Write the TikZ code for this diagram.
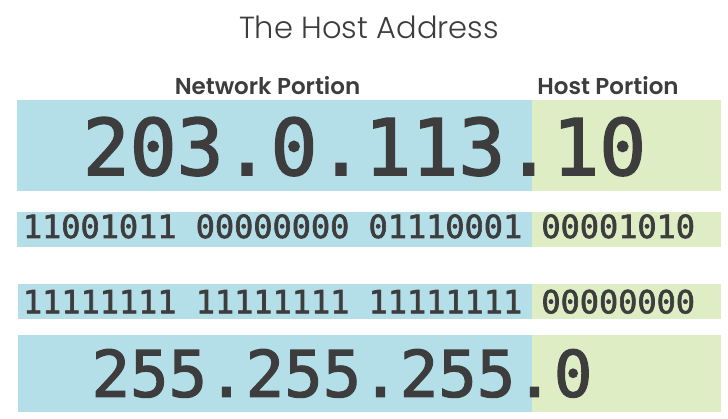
\documentclass[tikz,border=0pt]{standalone}
\usepackage{fontspec}
\newfontfamily\monofont[FakeBold=2]{DejaVu Sans Mono}
\newfontfamily\titlefont{Poppins Light}
\newfontfamily\labelfont{Poppins SemiBold}
\definecolor{netblue}{RGB}{180,222,232}
\definecolor{hostgreen}{RGB}{222,237,196}
\definecolor{inkgray}{RGB}{61,61,61}
\begin{document}
\begin{tikzpicture}[x=1pt,y=-1pt,
  netband/.style={fill=netblue},
  hostband/.style={fill=hostgreen},
  txt/.style={inner sep=0pt,outer sep=0pt,anchor=base,text=inkgray},
  titletxt/.style={txt,font=\titlefont\fontsize{30.5}{31}\selectfont},
  labeltxt/.style={txt,font=\labelfont\fontsize{23}{23}\selectfont},
  bigtxt/.style={txt,font=\monofont\fontsize{78}{78}\selectfont},
  masktxt/.style={txt,font=\monofont\fontsize{64}{64}\selectfont},
  bintxt/.style={txt,font=\monofont\fontsize{31.9}{32}\selectfont}]
\useasboundingbox (0,0) rectangle (728,419);
% bands
\fill[netband]  (16.7,100)   rectangle (532.4,190.7);
\fill[hostband] (532.4,100)  rectangle (721.3,190.7);
\fill[netband]  (16.7,211.7) rectangle (532.4,246.7);
\fill[hostband] (532.4,211.7) rectangle (721.3,246.7);
\fill[netband]  (17.5,284)   rectangle (532.4,319.3);
\fill[hostband] (532.4,284)  rectangle (721.3,319.3);
\fill[netband]  (17.5,335)   rectangle (532.4,411.7);
\fill[hostband] (532.4,335)  rectangle (721.3,411.7);
% texts
\node[titletxt] (title) at (369,38.3) {The Host Address};
\node[labeltxt] (netlabel) at (267.5,95) {Network Portion};
\node[labeltxt] (hostlabel) at (608,95) {Host Portion};
\node[bigtxt] (ipaddr) at (364.5,175) {203.0.113.10};
\node[bintxt] (ipbin) at (359,238) {11001011 00000000 01110001 00001010};
\node[bintxt] (maskbin) at (359,313.3) {11111111 11111111 11111111 00000000};
\node[masktxt] (mask) at (342,396.7) {255.255.255.0};
\end{tikzpicture}
\end{document}
